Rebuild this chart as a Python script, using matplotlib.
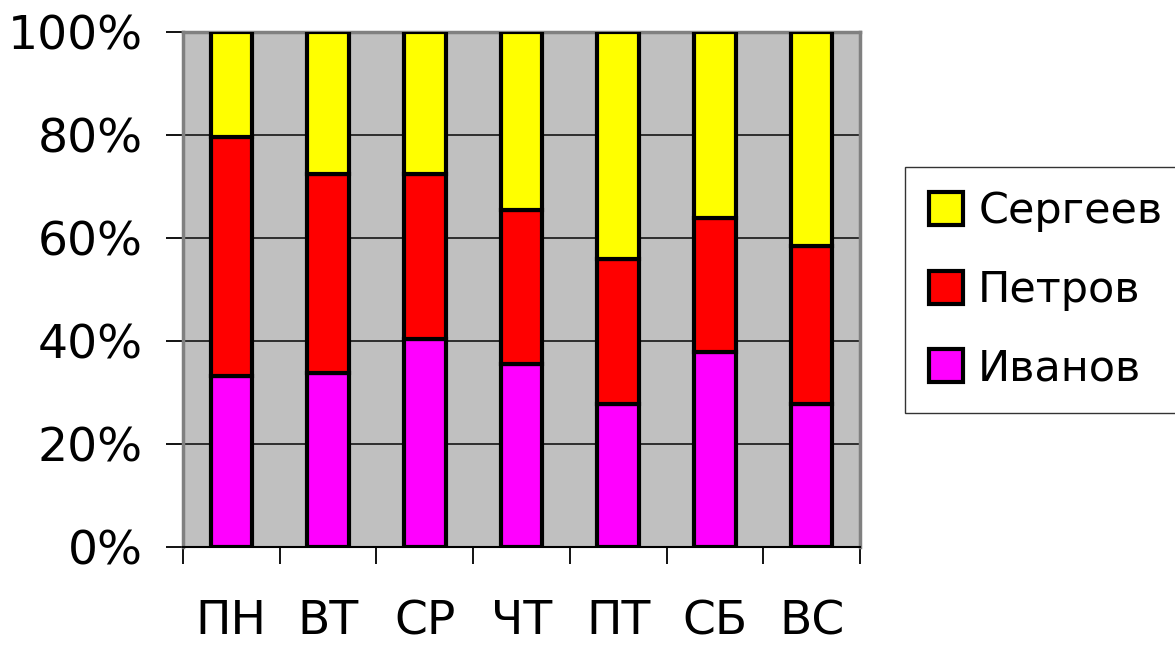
import matplotlib.pyplot as plt
import numpy as np

# данные (проценты)
days = ['ПН', 'ВТ', 'СР', 'ЧТ', 'ПТ', 'СБ', 'ВС']
ivanov = [33.1, 33.8, 40.3, 35.4, 27.7, 37.8, 27.7]
petrov = [46.5, 38.6, 32.1, 30.0, 28.1, 26.0, 30.6]
sergeev = [20.4, 27.6, 27.6, 34.6, 44.2, 36.2, 41.7]

plt.rcParams['font.family'] = ['DejaVu Sans']

fig = plt.figure(figsize=(11.75, 6.47), dpi=100)
ax = fig.add_axes([183/1175, 1-546.7/647, (860-183)/1175, (546.7-31.7)/647])
ax.set_facecolor('#c0c0c0')

x = np.arange(len(days))
ivanov = np.array(ivanov)
petrov = np.array(petrov)
sergeev = np.array(sergeev)
w = 0.43
bk = dict(edgecolor='black', linewidth=3, width=w, zorder=3)
b1 = ax.bar(x, ivanov, color='#ff00ff', label='Иванов', **bk)
b2 = ax.bar(x, petrov, bottom=ivanov, color='#ff0000', label='Петров', **bk)
b3 = ax.bar(x, sergeev, bottom=ivanov+petrov, color='#ffff00', label='Сергеев', **bk)

ax.set_xlim(-0.5, len(days)-0.5)
ax.set_ylim(0, 100)
ax.set_yticks(np.arange(0, 101, 20))
ax.set_yticklabels([f'{v}%' for v in range(0, 101, 20)])
ax.yaxis.grid(True, color='#222222', linewidth=1.3, zorder=1)
ax.set_axisbelow(True)

ax.set_xticks(x)
ax.set_xticklabels(days)
ax.set_xticks(np.arange(-0.5, len(days), 1), minor=True)
ax.tick_params(axis='x', which='major', length=0, pad=38, labelsize=34)
ax.tick_params(axis='x', which='minor', length=12, width=1.3, color='black', direction='out')
ax.tick_params(axis='y', length=12, width=1.3, color='black', pad=17, labelsize=34)

for s in ['top', 'right', 'left']:
    ax.spines[s].set_color('#808080')
    ax.spines[s].set_linewidth(2.5)
ax.spines['bottom'].set_color('black')
ax.spines['bottom'].set_linewidth(1.5)

leg = fig.legend(handles=[b3, b2, b1], labels=['Сергеев', 'Петров', 'Иванов'],
                 loc='center left', bbox_to_anchor=(905/1175, 1-290/647),
                 fontsize=31, frameon=True, fancybox=False, edgecolor='black',
                 handlelength=0.8, handleheight=0.8, handletextpad=0.35,
                 labelspacing=0.85, borderpad=0.55, borderaxespad=0)
leg.get_frame().set_linewidth(1.0)

fig.savefig('out.png', dpi=100)
